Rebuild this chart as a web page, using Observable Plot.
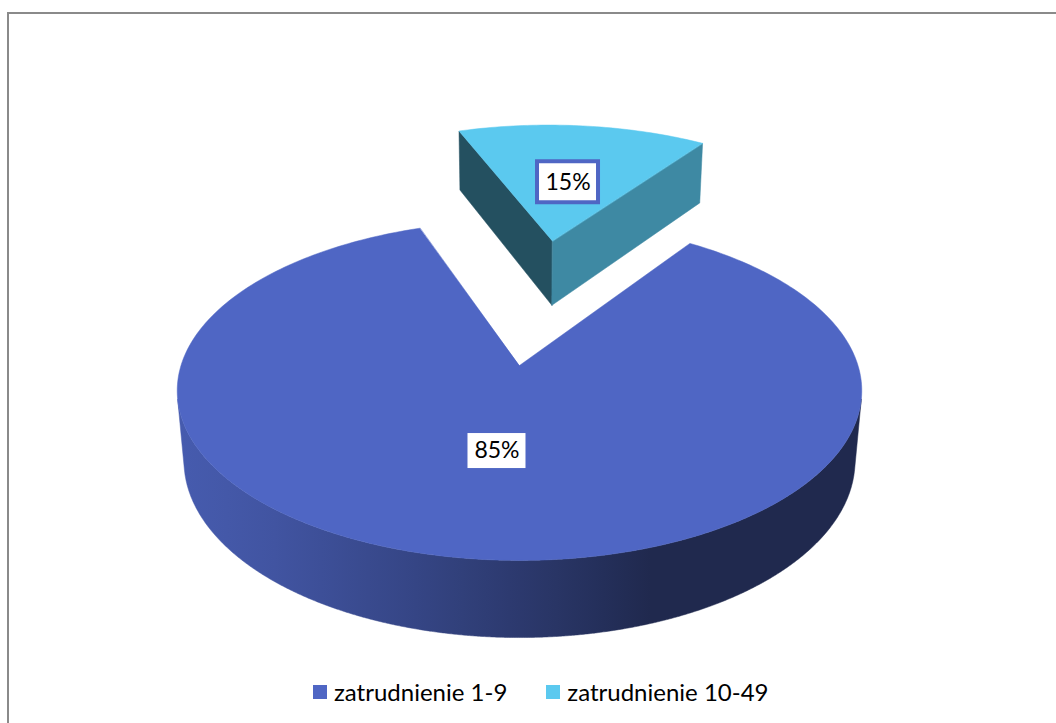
<!DOCTYPE html>
<html><head><meta charset="utf-8">
<script src="https://cdn.jsdelivr.net/npm/d3@7"></script>
<script src="https://cdn.jsdelivr.net/npm/@observablehq/plot@0.6"></script>
<style>
html,body{margin:0;padding:0;background:#fff;overflow:hidden;}
#frame{position:absolute;left:7px;top:12px;width:1100px;height:800px;border:2px solid #8a8a8a;box-sizing:border-box;}
#chart{position:absolute;left:0;top:0;}
#legend{position:absolute;top:678px;left:313px;display:flex;gap:39px;font-family:Lato,"Open Sans",sans-serif;font-size:24px;color:#000;line-height:28px;}
.item{display:flex;align-items:center;}
.sw{width:14px;height:14px;margin-right:7px;}
</style></head><body>
<div id="frame"></div>
<div id="chart"></div>
<div id="legend"></div>
<script>
// ---- data ----
const categories = ["zatrudnienie 1-9", "zatrudnienie 10-49"];
const values = [85, 15];
const labels = ["85%", "15%"];
const colors = ["#4f66c4", "#5bc9ef"];
const explode = [0, 0.85];
const startAngle = 34.4; // degrees, clockwise from back

// ---- projection (3D perspective pie) ----
const W = 1056, HS = 665;
const CX = 519, CY = 365, D = 5.9, FX = 338.5 * D, FY = 341 * D, TH = 0.2386;
const PHI = Math.asin(0.487), S = Math.sin(PHI), C = Math.cos(PHI);
function proj(X, Y, Z) {
  const yv = Y * C + Z * S, zv = -Y * S + Z * C;
  return [CX + X * FX / (D + zv), CY - yv * FY / (D + zv)];
}
const rad = d => d * Math.PI / 180;
function shade(col, f) { const c = d3.rgb(col); return d3.rgb(c.r * f, c.g * f, c.b * f).formatHex(); }
const wallShade = t => 0.89 - 0.49 * Math.pow(t, 1.2);
const GX0 = 180, GX1 = 650;

const total = d3.sum(values);
let acc = startAngle;
const slices = values.map((v, i) => {
  const a0 = acc, a1 = acc + v / total * 360; acc = a1;
  const mid = rad((a0 + a1) / 2);
  return {i, a0, a1, ox: explode[i] * Math.sin(mid), oz: explode[i] * Math.cos(mid), mid};
});

const polys = [];
function addPoly(id, fill, pts) { pts.forEach(([x, y]) => polys.push({id, fill, x, y})); }
const pt = (s, a, r, Y) => proj(r * Math.sin(rad(a)) + s.ox, Y, r * Math.cos(rad(a)) + s.oz);

function drawSlice(s) {
  const col = colors[s.i];
  const camZ = -D * C;
  // cut faces
  [[s.a0, s.a0 - 90, 0.40], [s.a1, s.a1 + 90, 0.68]].forEach(([a, na, f], j) => {
    const nx = Math.sin(rad(na)), nz = Math.cos(rad(na));
    const vis = nx * (0 - s.ox) + nz * (camZ - s.oz) > 0;
    if (vis) addPoly(`cut${s.i}_${j}`, shade(col, f), [pt(s, 0, 0, 0), pt(s, a, 1, 0), pt(s, a, 1, -TH), pt(s, 0, 0, -TH)]);
  });
  // outer wall (visible part, single polygon with gradient)
  const vis = [];
  for (let a = s.a0; a <= s.a1 + 1e-9; a += 0.25) {
    const m = rad(a);
    if (-1 - s.ox * Math.sin(m) - (D * C + s.oz) * Math.cos(m) > 0) vis.push(a);
  }
  if (vis.length > 1) {
    const topEdge = vis.map(a => pt(s, a, 1, 0));
    const botEdge = vis.map(a => pt(s, a, 1, -TH)).reverse();
    addPoly(`wall${s.i}`, `url(#wallGrad${s.i})`, topEdge.concat(botEdge));
  }
  // top face
  const top = [pt(s, 0, 0, 0)];
  for (let a = s.a0; a < s.a1; a += 1) top.push(pt(s, a, 1, 0));
  top.push(pt(s, s.a1, 1, 0));
  addPoly(`top${s.i}`, col, top);
}
// back slice first, then front
[...slices].sort((p, q) => Math.cos(q.mid) - Math.cos(p.mid)).forEach(drawSlice);

const labelR = 0.48;
const labelData = slices.map(s => {
  const [x, y] = pt(s, (s.a0 + s.a1) / 2, labelR, 0);
  return {x, y, text: labels[s.i], boxed: s.i === 1};
});

function gradientDefs() {
  const defs = d3.create("svg:defs");
  colors.forEach((col, i) => {
    const g = defs.append("linearGradient").attr("id", `wallGrad${i}`)
      .attr("gradientUnits", "userSpaceOnUse")
      .attr("x1", GX0).attr("x2", GX1).attr("y1", 0).attr("y2", 0);
    d3.range(0, 1.0001, 0.1).forEach(t => {
      g.append("stop").attr("offset", t).attr("stop-color", shade(col, wallShade(t)));
    });
  });
  return defs.node();
}

const chart = Plot.plot({
  width: W, height: HS, margin: 0,
  x: {domain: [0, W], range: [0, W], axis: null},
  y: {domain: [0, HS], range: [0, HS], axis: null},
  color: {type: "identity"},
  marks: [
    gradientDefs,
    Plot.line(polys, {x: "x", y: "y", z: "id", fill: "fill", stroke: "fill", strokeWidth: 0.5, curve: "linear-closed"}),
    Plot.rect(labelData.filter(d => !d.boxed), {x1: d => d.x - 29, x2: d => d.x + 29, y1: d => d.y - 17, y2: d => d.y + 18, fill: "white"}),
    Plot.rect(labelData.filter(d => d.boxed), {x1: d => d.x - 30.5, x2: d => d.x + 30.5, y1: d => d.y - 20.5, y2: d => d.y + 20.5, fill: "white", stroke: colors[0], strokeWidth: 4}),
    Plot.text(labelData, {x: "x", y: "y", text: "text", fontSize: 23, fontFamily: "Lato", fill: "black"})
  ]
});
document.getElementById("chart").appendChild(chart);

const lg = document.getElementById("legend");
categories.forEach((c, i) => {
  const it = document.createElement("div"); it.className = "item";
  const sw = document.createElement("div"); sw.className = "sw"; sw.style.background = colors[i];
  const tx = document.createElement("span"); tx.textContent = c;
  it.appendChild(sw); it.appendChild(tx); lg.appendChild(it);
});
</script>
</body></html>
